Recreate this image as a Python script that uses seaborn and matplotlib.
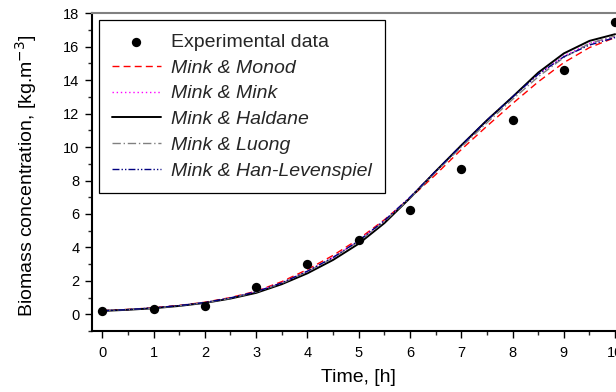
import numpy as np
import pandas as pd
import matplotlib
matplotlib.use("Agg")
import matplotlib.pyplot as plt
from matplotlib.ticker import MultipleLocator
import seaborn as sns

sns.set_theme(style="white")
plt.rcParams['font.family'] = ['Liberation Sans', 'DejaVu Sans']

# Experimental data
t_exp = [0, 1, 2, 3, 4, 5, 6, 7, 8, 9, 10]
x_exp = [0.22, 0.32, 0.48, 1.64, 3.03, 4.44, 6.21, 8.70, 11.63, 14.6, 17.48]

# Model curves
t_mod = [0, 0.5, 1, 1.5, 2, 2.5, 3, 3.5, 4, 4.5, 5, 5.5, 6, 6.5, 7, 7.5, 8, 8.5, 9, 9.5, 10]
monod = [0.22, 0.29, 0.39, 0.53, 0.72, 1.00, 1.38, 1.95, 2.68, 3.52, 4.50, 5.65, 6.95, 8.35,
         9.85, 11.25, 12.60, 13.90, 15.05, 15.95, 16.55]
mink = [0.21, 0.28, 0.38, 0.52, 0.70, 0.98, 1.35, 1.88, 2.58, 3.40, 4.40, 5.60, 7.00, 8.55,
        10.10, 11.60, 13.00, 14.35, 15.45, 16.20, 16.60]
haldane = [0.20, 0.27, 0.36, 0.50, 0.68, 0.94, 1.28, 1.80, 2.45, 3.25, 4.22, 5.45, 6.95, 8.55,
           10.10, 11.60, 13.00, 14.45, 15.60, 16.35, 16.75]
luong = [0.21, 0.28, 0.37, 0.51, 0.69, 0.96, 1.33, 1.85, 2.55, 3.36, 4.35, 5.55, 6.95, 8.50,
         10.00, 11.45, 12.85, 14.20, 15.35, 16.20, 16.65]
hanlev = [0.21, 0.28, 0.38, 0.52, 0.70, 0.98, 1.35, 1.88, 2.58, 3.40, 4.40, 5.60, 7.00, 8.55,
          10.10, 11.60, 13.00, 14.35, 15.40, 16.10, 16.55]

labels = ["Mink & Monod", "Mink & Mink", "Mink & Haldane", "Mink & Luong", "Mink & Han-Levenspiel"]
series = [monod, mink, haldane, luong, hanlev]
colors = ["#FF0000", "#FF00FF", "#000000", "#808080", "#000080"]
styles = [(0, (5, 3)), (0, (1, 2)), "-", (0, (6, 2, 1, 2)), (0, (5, 1.5, 1, 1.5, 1, 1.5))]
widths = [1.0, 1.0, 1.4, 1.0, 1.0]

fig = plt.figure(figsize=(6.16, 3.92), dpi=100)
ax = fig.add_axes([0.1494, 0.1556, 0.8658, 0.8105])

sns.scatterplot(x=t_exp, y=x_exp, ax=ax, color="black", s=45, edgecolor="black",
                linewidth=0, label="Experimental data", zorder=5)
for lab, ys, c, ls, lw in zip(labels, series, colors, styles, widths):
    sns.lineplot(x=t_mod, y=ys, ax=ax, color=c, linestyle=ls, linewidth=lw, label=lab)

ax.set_xlim(-0.2, 10.2)
ax.set_ylim(-1, 18)
ax.xaxis.set_major_locator(MultipleLocator(1))
ax.xaxis.set_minor_locator(MultipleLocator(0.5))
ax.yaxis.set_major_locator(MultipleLocator(2))
ax.yaxis.set_minor_locator(MultipleLocator(1))
ax.tick_params(which="major", direction="out", length=5, width=1.0, labelsize=10.5,
               colors="black", bottom=True, left=True)
ax.tick_params(axis="x", which="major", pad=5.5)
ax.tick_params(axis="y", which="major", pad=4)
ax.tick_params(which="minor", direction="out", length=3, width=1.0, bottom=True, left=True)
for s in ["left", "bottom"]:
    ax.spines[s].set_color("black")
    ax.spines[s].set_linewidth(1.5)
ax.spines["top"].set_color("#808080")
ax.spines["top"].set_linewidth(1.5)
ax.spines["right"].set_visible(False)
ax.grid(False)

ax.set_xlabel("Time, [h]", fontsize=14, color="black")
ax.set_ylabel("Biomass concentration, [kg.m$^{-3}$]", fontsize=14, color="black")
ax.xaxis.set_label_coords(0.499, -0.12)
ax.yaxis.set_label_coords(-0.1, 0.49)

leg = ax.legend(loc="upper left", fontsize=14, frameon=True, fancybox=False,
                edgecolor="black", framealpha=1, handlelength=2.5, handletextpad=0.55,
                labelspacing=0.42, borderpad=0.68, borderaxespad=0.35)
leg.get_frame().set_linewidth(0.9)
for i, txt in enumerate(leg.get_texts()):
    if i > 0:
        txt.set_fontstyle("italic")

fig.savefig("out.png", dpi=100)
